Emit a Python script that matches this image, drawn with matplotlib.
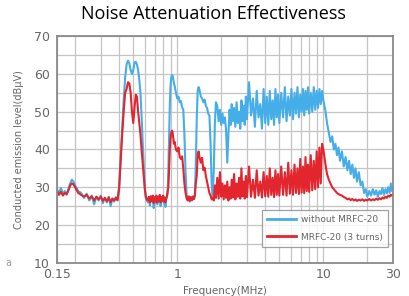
import matplotlib
matplotlib.use("Agg")
import matplotlib.pyplot as plt
from matplotlib.ticker import FixedLocator, NullFormatter

# frequency sweep points (MHz), shared by both traces
freq_mhz = [
    0.150, 0.155, 0.160, 0.165, 0.170, 0.175, 0.180, 0.185, 0.190, 0.195,
    0.200, 0.21, 0.22, 0.23, 0.24, 0.25, 0.26, 0.27, 0.28, 0.29,
    0.30, 0.31, 0.32, 0.33, 0.34, 0.35, 0.36, 0.37, 0.38, 0.39,
    0.40, 0.41, 0.42, 0.43, 0.44, 0.45, 0.46, 0.47, 0.48, 0.49,
    0.50, 0.51, 0.52, 0.53, 0.54, 0.55, 0.56, 0.57, 0.58, 0.59,
    0.60, 0.61, 0.62,
    0.63, 0.64, 0.65, 0.66, 0.67, 0.68, 0.69, 0.70, 0.71, 0.72,
    0.73, 0.74, 0.75, 0.76, 0.77, 0.78, 0.79, 0.80, 0.81, 0.82,
    0.83, 0.84, 0.85, 0.86,
    0.87, 0.88, 0.89, 0.90, 0.91, 0.92, 0.93, 0.94, 0.95, 0.96,
    0.98, 1.00, 1.02, 1.04, 1.06, 1.08, 1.10, 1.12, 1.14, 1.16,
    1.18, 1.20, 1.22, 1.24, 1.26, 1.28, 1.30, 1.32, 1.34,
    1.36, 1.38, 1.40, 1.42, 1.45, 1.48, 1.51, 1.54, 1.57, 1.60,
    1.63, 1.66, 1.69, 1.72, 1.75, 1.78, 1.81, 1.84,
    1.88, 1.92, 1.96, 2.00, 2.04, 2.08, 2.12, 2.16, 2.20, 2.24,
    2.28, 2.32, 2.36, 2.40, 2.45, 2.50, 2.55, 2.60, 2.65, 2.70,
    2.75, 2.80, 2.85, 2.90, 2.95, 3.00,
    3.1, 3.2, 3.3, 3.4, 3.5, 3.6, 3.7, 3.8, 3.9, 4.0,
    4.1, 4.2, 4.3, 4.4, 4.5, 4.6, 4.7, 4.8, 4.9, 5.0,
    5.15, 5.3, 5.45, 5.6, 5.75, 5.9, 6.05, 6.2, 6.35, 6.5,
    6.65, 6.8, 6.95, 7.1, 7.25, 7.4, 7.55, 7.7, 7.85, 8.0,
    8.2, 8.4, 8.6, 8.8, 9.0, 9.2, 9.4, 9.6, 9.8, 10.0,
    10.3, 10.6, 10.9, 11.2, 11.5, 11.8, 12.1, 12.4, 12.7, 13.0,
    13.4, 13.8, 14.2, 14.6, 15.0, 15.4, 15.8, 16.2, 16.6, 17.0,
    17.5, 18.0, 18.5, 19.0, 19.5, 20.0, 20.6, 21.2, 21.8, 22.4,
    23.0, 23.6, 24.2, 24.8, 25.4, 26.0, 26.6, 27.2, 27.8, 28.4,
    29.0, 29.5, 30.0,
]

# conducted emission level (dBuV) without the core
level_without = [
    29.5, 28.5, 29.8, 28.2, 29.0, 28.0, 29.5, 31.0, 32.0, 31.5,
    30.5, 29.0, 28.5, 27.2, 28.3, 26.5, 27.8, 25.5, 27.5, 26.5,
    27.8, 25.8, 27.2, 26.0, 27.5, 25.0, 27.0, 26.2, 27.4, 26.5,
    30.0, 38.0, 46.0, 53.0, 59.0, 62.5, 63.5, 62.8, 61.0, 60.0,
    61.0, 63.0, 63.2, 62.5, 61.0, 58.5, 55.0, 49.0, 42.0, 36.0,
    30.0, 27.0, 26.5,
    26.0, 27.3, 25.2, 27.0, 26.3, 27.5, 24.5, 26.8, 26.0, 27.4,
    25.5, 27.0, 26.2, 27.6, 25.0, 27.0, 26.4, 27.5, 25.8, 26.9,
    24.8, 26.8, 27.3, 28.5,
    35.0, 44.0, 52.0, 57.0, 59.0, 59.7, 59.5, 58.5, 57.5, 56.8,
    55.0, 53.5, 54.0, 52.5, 52.8, 51.2, 50.5, 44.0, 34.0, 28.0,
    26.8, 27.5, 26.2, 27.3, 26.5, 27.6, 26.8, 28.0, 36.0,
    48.0, 55.5, 56.5, 55.8, 54.0, 53.5, 52.5, 53.2, 51.5, 51.0,
    49.5, 49.0, 42.0, 31.0, 27.5, 35.0, 47.0, 52.5,
    51.5, 47.5, 50.5, 46.5, 49.5, 47.0, 48.5, 45.0, 36.5, 44.0,
    50.5, 46.5, 52.0, 47.5, 51.0, 46.0, 52.5, 47.0, 50.0, 45.5,
    53.0, 47.5, 51.5, 46.5, 54.0, 48.0,
    57.8, 49.0, 53.5, 46.0, 55.5, 48.5, 52.0, 45.5, 56.0, 47.0,
    54.0, 46.5, 55.5, 48.0, 53.0, 46.5, 56.0, 48.5, 54.5, 47.0,
    55.0, 48.5, 56.5, 47.5, 54.0, 49.0, 56.0, 48.0, 55.0, 49.5,
    56.5, 48.5, 54.5, 50.0, 56.0, 49.0, 55.5, 50.5, 56.5, 49.5,
    55.0, 50.0, 56.5, 50.5, 55.5, 51.0, 56.0, 52.0, 55.5, 53.0,
    50.5, 47.0, 44.5, 42.0, 43.5, 40.0, 41.5, 38.5, 40.5, 37.0,
    39.5, 35.5, 38.0, 34.5, 37.0, 33.5, 36.0, 32.5, 35.0, 31.5,
    34.0, 30.5, 31.5, 28.5, 29.5, 27.5, 29.0, 27.8, 29.5, 28.0,
    29.2, 27.5, 29.0, 28.2, 29.8, 28.0, 29.5, 28.4, 30.0, 28.5,
    31.0, 29.0, 30.0,
]

# conducted emission level (dBuV) with MRFC-20, 3 turns
level_with = [
    29.0, 28.0, 28.8, 27.8, 28.5, 28.2, 29.2, 30.5, 31.0, 30.8,
    30.0, 28.5, 28.0, 27.5, 28.0, 27.0, 27.6, 26.5, 27.5, 26.8,
    27.5, 26.4, 27.2, 26.3, 27.3, 26.0, 27.0, 26.5, 27.2, 26.6,
    29.5, 37.0, 44.0, 50.0, 55.0, 56.0, 57.8, 57.5, 55.0, 50.0,
    47.0, 51.0, 54.5, 54.0, 50.0, 47.0, 44.0, 40.0, 36.5, 33.0,
    29.5, 27.5, 26.8,
    26.5, 27.5, 26.0, 27.6, 26.3, 27.8, 25.8, 27.4, 26.2, 27.8,
    26.0, 27.5, 26.4, 28.0, 26.0, 27.4, 26.5, 27.8, 26.2, 27.3,
    26.0, 27.2, 27.6, 29.0,
    30.0, 35.0, 40.0, 43.0, 44.5, 45.0, 44.5, 43.0, 41.5, 42.0,
    40.0, 39.5, 40.5, 38.0, 37.5, 38.2, 35.0, 31.0, 28.5, 27.0,
    26.5, 27.6, 26.4, 27.4, 26.6, 27.5, 26.9, 27.8, 31.0,
    33.0, 38.5, 39.5, 38.0, 36.5, 37.8, 34.5, 35.2, 33.0, 31.5,
    30.0, 28.5, 27.8, 26.8, 27.2, 26.5, 30.5, 27.2,
    32.5, 27.0, 34.0, 27.5, 31.0, 26.8, 30.5, 27.2, 31.5, 26.5,
    30.0, 27.0, 32.0, 27.3, 33.5, 26.8, 31.0, 27.5, 32.5, 27.0,
    35.0, 27.6, 31.5, 27.0, 33.0, 27.4,
    35.5, 27.5, 32.0, 27.2, 34.5, 27.8, 31.5, 27.3, 34.0, 27.6,
    33.0, 27.5, 35.0, 28.0, 32.5, 27.4, 34.5, 28.0, 33.5, 27.8,
    35.5, 28.0, 34.0, 27.8, 36.5, 28.3, 34.5, 28.0, 36.0, 28.5,
    35.0, 28.2, 37.5, 28.6, 35.5, 28.4, 38.0, 29.0, 36.0, 28.8,
    38.5, 29.2, 37.0, 29.5, 39.5, 30.0, 40.5, 31.0, 41.5, 40.0,
    36.5, 33.5, 32.0, 31.0, 30.0, 29.5, 29.0, 28.5, 28.2, 28.0,
    27.8, 27.4, 27.2, 26.8, 27.0, 26.6, 26.9, 26.5, 26.8, 26.4,
    26.7, 26.5, 26.8, 26.4, 26.7, 26.5, 26.9, 26.5, 26.8, 26.6,
    27.0, 26.7, 27.1, 26.8, 27.3, 27.0, 27.5, 27.2, 27.8, 27.5,
    28.0, 27.8, 28.2,
]

series_labels = ["without MRFC-20", "MRFC-20 (3 turns)"]
x_ticks = [0.15, 1, 10, 30]
x_tick_labels = ["0.15", "1", "10", "30"]
y_ticks = [10, 20, 30, 40, 50, 60, 70]

blue = "#45aee8"
red = "#e3252d"
grey_txt = "#666666"

fig = plt.figure(figsize=(4.09, 2.96), dpi=100)
ax = fig.add_axes([0.139, 0.112, 0.822, 0.766])

ax.plot(freq_mhz, level_without, color=blue, lw=1.5, label=series_labels[0])
ax.plot(freq_mhz, level_with, color=red, lw=1.5, label=series_labels[1])

ax.set_xscale("log")
ax.set_xlim(0.15, 30)
ax.set_ylim(10, 70)

# grid: 1-2-3.. steps vertically, every 5 dB horizontally
ax.xaxis.set_major_locator(FixedLocator(x_ticks))
ax.set_xticklabels(x_tick_labels)
ax.xaxis.set_minor_locator(FixedLocator([0.2, 0.3, 0.4, 0.5, 0.6, 0.7, 0.8, 0.9,
                                         2, 3, 4, 5, 6, 7, 8, 9, 20]))
ax.xaxis.set_minor_formatter(NullFormatter())
ax.set_yticks(y_ticks)
ax.yaxis.set_minor_locator(FixedLocator([15, 25, 35, 45, 55, 65]))
ax.grid(True, which="both", color="#c4c4c4", lw=0.9)
ax.set_axisbelow(True)
ax.tick_params(which="both", length=0, labelsize=9, labelcolor=grey_txt)
ax.tick_params(axis="x", pad=4)
ax.tick_params(axis="y", pad=5)

for s in ax.spines.values():
    s.set_color("#8a8a8a")
    s.set_linewidth(1.3)

ax.set_xlabel("Frequency(MHz)", fontsize=7.5, color=grey_txt, labelpad=3)
ax.set_ylabel("Conducted emission level(dB\u03bcV)", fontsize=7, color=grey_txt, labelpad=7)

leg = ax.legend(loc="lower right", bbox_to_anchor=(0.985, 0.07), borderaxespad=0,
                fontsize=6.5, frameon=True, fancybox=False, edgecolor="#8a8a8a",
                handlelength=3.2, handletextpad=0.5, borderpad=0.6,
                labelspacing=0.9)
leg.get_frame().set_linewidth(0.9)
for t in leg.get_texts():
    t.set_color(grey_txt)
for h in leg.get_lines():
    h.set_linewidth(2.0)

fig.text(0.523, 0.952, "Noise Attenuation Effectiveness", ha="center", va="center",
         fontsize=13, family="Open Sans", fontweight="normal", color="black")
fig.text(0.012, 0.11, "a", fontsize=7, color="#999999", va="center")

fig.savefig("out.png", dpi=100)
